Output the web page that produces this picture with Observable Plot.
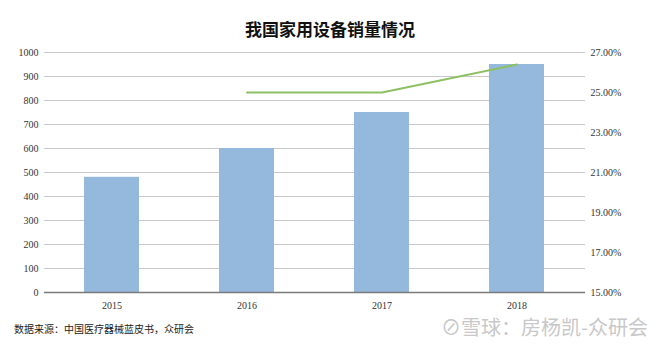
<!DOCTYPE html>
<html><head><meta charset="utf-8">
<script src="https://cdn.jsdelivr.net/npm/d3@7"></script>
<script src="https://cdn.jsdelivr.net/npm/@observablehq/plot@0.6"></script>
<style>
body{margin:0;background:#fff;width:660px;height:348px;overflow:hidden;position:relative;font-family:"Liberation Serif",serif;}
#title{height:44px;line-height:58px;text-align:center;font-family:"Noto Sans CJK SC",serif;font-weight:bold;font-size:17px;color:#111;}
#foot{position:relative;height:32px;}
#src{position:absolute;left:14px;top:5px;font-family:"Noto Sans CJK SC",sans-serif;font-size:10px;color:#222;}
#wm{position:absolute;right:12px;top:-4px;font-family:"Noto Sans CJK SC",sans-serif;font-size:20px;color:#c8c8c8;}
</style></head><body>
<div id="title">我国家用设备销量情况</div>
<div id="chart"></div>
<div id="foot"><div id="src">数据来源：中国医疗器械蓝皮书，众研会</div><div id="wm">⊘雪球：房杨凯-众研会</div></div>
<script>
const years = ["2015","2016","2017","2018"];
const sales = [480, 600, 750, 950];
const growthYears = ["2016","2017","2018"];
const growth = [25.0, 25.0, 26.4];
const leftTicks = [0,100,200,300,400,500,600,700,800,900,1000];
const rightTicks = [15,17,19,21,23,25,27];

const pMin = 15, pMax = 27, yMax = 1000;
const toLeft = p => (p - pMin) / (pMax - pMin) * yMax;

const bars = years.map((y,i)=>({year:y, v:sales[i]}));
const line = growthYears.map((y,i)=>({year:y, v:toLeft(growth[i])}));

const chart = Plot.plot({
  width:660, height:272,
  marginTop:8, marginBottom:24, marginLeft:44, marginRight:75,
  style:{fontFamily:"Liberation Serif, serif", fontSize:"10px", color:"#333"},
  x:{domain:years, paddingInner:0.59, paddingOuter:0.295, label:null},
  y:{domain:[0,yMax], label:null},
  marks:[
    Plot.ruleY(leftTicks.filter(d=>d>0), {stroke:"#c8c8c8", strokeWidth:1}),
    Plot.barY(bars, {x:"year", y:"v", fill:"#95b8dd"}),
    Plot.ruleY([0], {stroke:"#7a7a7a", strokeWidth:1.5}),
    Plot.line(line, {x:"year", y:"v", stroke:"#8dc063", strokeWidth:2}),
    Plot.axisY(leftTicks, {anchor:"left", tickSize:0, tickPadding:6, label:null, tickFormat:d=>String(d)}),
    Plot.axisY(rightTicks.map(toLeft), {anchor:"right", tickSize:0, tickPadding:5, label:null,
      tickFormat: d => (pMin + d/yMax*(pMax-pMin)).toFixed(2) + "%"}),
    Plot.axisX({tickSize:0, tickPadding:9, label:null})
  ]
});
document.getElementById("chart").appendChild(chart);
</script>
</body></html>
